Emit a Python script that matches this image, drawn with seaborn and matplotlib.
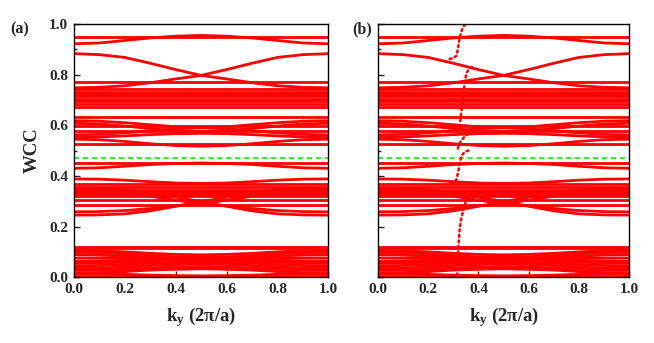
import matplotlib
matplotlib.use("Agg")
import matplotlib.pyplot as plt
from matplotlib.ticker import MultipleLocator
import pandas as pd
import seaborn as sns

# ---------------- data ----------------
ky = [0.0, 0.1, 0.2, 0.3, 0.4, 0.5, 0.6, 0.7, 0.8, 0.9, 1.0]

# flat WCC bands (constant over ky)
flat_levels = [0.950, 0.772, 0.742, 0.733, 0.724, 0.714, 0.705, 0.695, 0.684,
               0.672, 0.634, 0.598, 0.578, 0.527, 0.452,
               0.366, 0.356, 0.346, 0.337, 0.328, 0.320, 0.305, 0.286,
               0.120, 0.114, 0.006]

# dispersive bands, values at ky above
top_bands = [
    [0.922, 0.925, 0.935, 0.945, 0.952, 0.955, 0.952, 0.945, 0.935, 0.925, 0.922],
    [0.883, 0.879, 0.868, 0.845, 0.820, 0.797, 0.820, 0.845, 0.868, 0.879, 0.883],
    [0.748, 0.750, 0.756, 0.768, 0.783, 0.797, 0.783, 0.768, 0.756, 0.750, 0.748],
]
mid_bands = [
    [0.618, 0.616, 0.610, 0.602, 0.594, 0.590, 0.594, 0.602, 0.610, 0.616, 0.618],
    [0.608, 0.605, 0.597, 0.587, 0.578, 0.575, 0.578, 0.587, 0.597, 0.605, 0.608],
    [0.562, 0.564, 0.570, 0.578, 0.586, 0.590, 0.586, 0.578, 0.570, 0.564, 0.562],
    [0.552, 0.554, 0.558, 0.563, 0.567, 0.568, 0.567, 0.563, 0.558, 0.554, 0.552],
    [0.545, 0.543, 0.536, 0.527, 0.520, 0.517, 0.520, 0.527, 0.536, 0.543, 0.545],
    [0.430, 0.432, 0.438, 0.445, 0.449, 0.451, 0.449, 0.445, 0.438, 0.432, 0.430],
]
low_bands = [
    [0.388, 0.387, 0.383, 0.377, 0.372, 0.370, 0.372, 0.377, 0.383, 0.387, 0.388],
    [0.350, 0.349, 0.345, 0.333, 0.316, 0.298, 0.316, 0.333, 0.345, 0.349, 0.350],
    [0.245, 0.246, 0.250, 0.262, 0.280, 0.298, 0.280, 0.262, 0.250, 0.246, 0.245],
    [0.338, 0.337, 0.332, 0.320, 0.304, 0.290, 0.304, 0.320, 0.332, 0.337, 0.338],
    [0.258, 0.259, 0.263, 0.271, 0.282, 0.290, 0.282, 0.271, 0.263, 0.259, 0.258],
]
bottom_bands = [
    [0.105, 0.104, 0.100, 0.094, 0.090, 0.088, 0.090, 0.094, 0.100, 0.104, 0.105],
    [0.098, 0.097, 0.092, 0.085, 0.080, 0.078, 0.080, 0.085, 0.092, 0.097, 0.098],
    [0.088, 0.087, 0.083, 0.077, 0.072, 0.070, 0.072, 0.077, 0.083, 0.087, 0.088],
    [0.075, 0.075, 0.074, 0.072, 0.070, 0.069, 0.070, 0.072, 0.074, 0.075, 0.075],
    [0.062, 0.063, 0.067, 0.073, 0.078, 0.080, 0.078, 0.073, 0.067, 0.063, 0.062],
    [0.055, 0.056, 0.059, 0.064, 0.067, 0.068, 0.067, 0.064, 0.059, 0.056, 0.055],
    [0.045, 0.046, 0.050, 0.055, 0.058, 0.060, 0.058, 0.055, 0.050, 0.046, 0.045],
    [0.035, 0.036, 0.040, 0.046, 0.050, 0.052, 0.050, 0.046, 0.040, 0.036, 0.035],
    [0.028, 0.028, 0.031, 0.036, 0.040, 0.042, 0.040, 0.036, 0.031, 0.028, 0.028],
    [0.018, 0.018, 0.022, 0.028, 0.031, 0.033, 0.031, 0.028, 0.022, 0.018, 0.018],
    [0.014, 0.013, 0.011, 0.008, 0.006, 0.005, 0.006, 0.008, 0.011, 0.013, 0.014],
]

wcc_ref = 0.469  # green dashed reference line

# spectral-flow branches that only appear in panel (b)
flow1_ky = [0.285, 0.300, 0.312, 0.318, 0.324, 0.332, 0.340, 0.350]
flow1_w = [0.862, 0.866, 0.874, 0.900, 0.940, 0.970, 0.990, 1.000]
flow2_ky = [0.375, 0.362, 0.352, 0.346, 0.340, 0.334, 0.328, 0.325]
flow2_w = [0.830, 0.822, 0.805, 0.775, 0.720, 0.670, 0.620, 0.605]
flow3_ky = [0.318, 0.322, 0.330, 0.345, 0.365]
flow3_w = [0.508, 0.522, 0.538, 0.555, 0.572]
flow4_ky = [0.360, 0.345, 0.333, 0.328, 0.324, 0.318, 0.312, 0.300, 0.285]
flow4_w = [0.500, 0.495, 0.480, 0.460, 0.440, 0.410, 0.385, 0.372, 0.366]
flow5_ky = [0.370, 0.358, 0.350, 0.340, 0.330, 0.325, 0.322, 0.320, 0.318, 0.315]
flow5_w = [0.330, 0.322, 0.298, 0.265, 0.225, 0.186, 0.146, 0.120, 0.060, 0.000]

# ---------------- tables ----------------
rows = []
bid = 0
for lv in flat_levels:
    rows.append((bid, ky[0], lv))
    rows.append((bid, ky[-1], lv))
    bid += 1
for grp in (top_bands, mid_bands, low_bands, bottom_bands):
    for band in grp:
        for k, w in zip(ky, band):
            rows.append((bid, k, w))
        bid += 1
bands_df = pd.DataFrame(rows, columns=["band", "ky", "wcc"])

frows = []
for i, (fk, fw) in enumerate([(flow1_ky, flow1_w), (flow2_ky, flow2_w),
                              (flow3_ky, flow3_w), (flow4_ky, flow4_w),
                              (flow5_ky, flow5_w)]):
    for k, w in zip(fk, fw):
        frows.append((i, k, w))
flow_df = pd.DataFrame(frows, columns=["seg", "ky", "wcc"])

# ---------------- style ----------------
sns.set_style("ticks")
plt.rcParams["font.family"] = ["Liberation Serif", "DejaVu Serif"]
plt.rcParams["font.weight"] = "bold"
plt.rcParams["mathtext.fontset"] = "custom"
plt.rcParams["mathtext.rm"] = "Liberation Serif:bold"
plt.rcParams["mathtext.bf"] = "Liberation Serif:bold"
plt.rcParams["mathtext.it"] = "Liberation Serif:bold"

RED = "#ff0000"
GREEN = "#33ee33"

fig = plt.figure(figsize=(6.54, 3.43), dpi=100)
ax1 = fig.add_axes([0.113, 0.192, 0.389, 0.738])
ax2 = fig.add_axes([0.578, 0.192, 0.384, 0.738])

for ax in (ax1, ax2):
    sns.lineplot(data=bands_df, x="ky", y="wcc", units="band", estimator=None,
                 sort=False, color=RED, lw=2.0, legend=False, ax=ax)
    ax.axhline(wcc_ref, color=GREEN, lw=1.5, ls=(0, (2.5, 1.8)))
    ax.set_xlim(0, 1)
    ax.set_ylim(0, 1)
    ax.xaxis.set_major_locator(MultipleLocator(0.2))
    ax.yaxis.set_major_locator(MultipleLocator(0.2))
    ax.yaxis.set_minor_locator(MultipleLocator(0.1))
    ax.tick_params(which="both", direction="in", top=False, right=False,
                   width=1, labelsize=11, pad=4)
    ax.tick_params(which="major", length=4)
    ax.tick_params(which="minor", length=2)
    for lab in ax.get_xticklabels() + ax.get_yticklabels():
        lab.set_fontweight("bold")
    for sp in ax.spines.values():
        sp.set_linewidth(1.0)
        sp.set_color("black")
    ax.set_xlabel(r"k$_{\rm y}$ (2π/a)", fontsize=13.5, fontweight="bold", labelpad=7)

sns.lineplot(data=flow_df, x="ky", y="wcc", units="seg", estimator=None,
             sort=False, color=RED, lw=1.8, legend=False, ax=ax2,
             linestyle=(0, (0.8, 1.4)), dash_capstyle="round")

ax1.set_ylabel("WCC", fontsize=13.5, fontweight="bold", labelpad=6)
ax2.set_ylabel("")
ax2.tick_params(labelleft=False)

fig.text(0.015, 0.913, "(a)", fontsize=11.5, fontweight="bold", va="center")
fig.text(0.538, 0.913, "(b)", fontsize=11.5, fontweight="bold", va="center")

fig.savefig("out.png", dpi=100)
